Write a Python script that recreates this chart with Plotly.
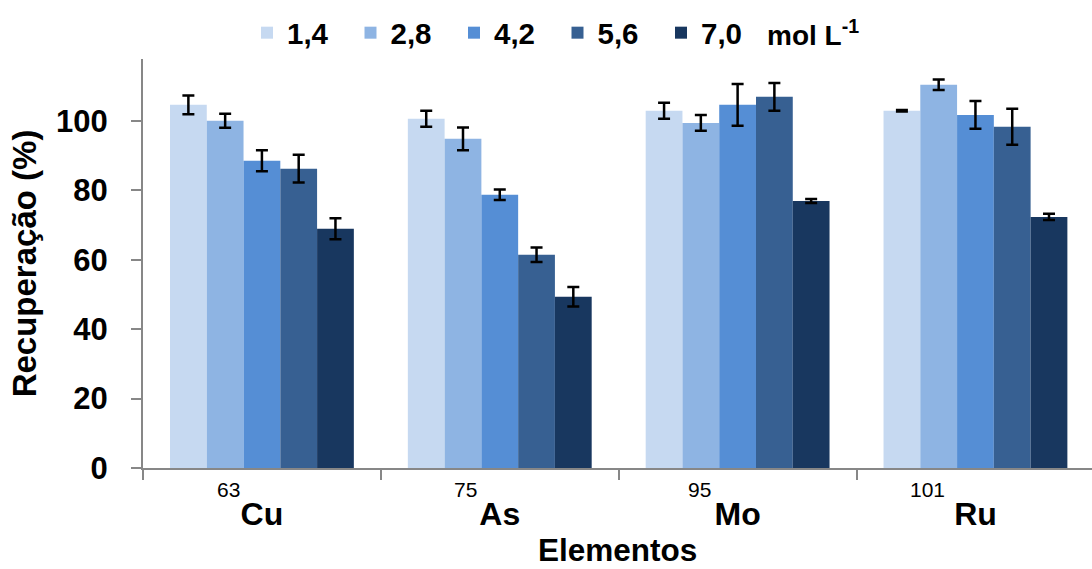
import plotly.graph_objects as go

# Elements (with mass numbers) and nitric acid concentrations
elements = ["Cu", "As", "Mo", "Ru"]
mass_numbers = ["63", "75", "95", "101"]
concentrations = ["1,4", "2,8", "4,2", "5,6", "7,0"]

# Recovery (%) per concentration, ordered as in `elements`
rec_14 = [104.6, 100.6, 102.9, 102.9]
rec_28 = [100.0, 94.8, 99.4, 110.4]
rec_42 = [88.5, 78.7, 104.6, 101.7]
rec_56 = [86.2, 61.4, 106.9, 98.3]
rec_70 = [68.9, 49.3, 76.9, 72.3]

# Standard deviations
sd_14 = [2.7, 2.3, 2.3, 0.2]
sd_28 = [2.0, 3.3, 2.3, 1.5]
sd_42 = [3.0, 1.5, 6.0, 4.0]
sd_56 = [4.0, 2.1, 4.0, 5.2]
sd_70 = [3.0, 2.8, 0.6, 0.9]

values = [rec_14, rec_28, rec_42, rec_56, rec_70]
errors = [sd_14, sd_28, sd_42, sd_56, sd_70]
colors = ["#C6D9F1", "#8EB4E3", "#558ED5", "#376092", "#18375F"]

FONT = "Liberation Sans, Arial, sans-serif"
AXIS_GRAY = "#878787"

# plot area in pixels
W, H = 1092, 569
ML, MR, MT, MB = 143, 0, 59, 101
PW = W - ML - MR

fig = go.Figure()
for name, vals, errs, col in zip(concentrations, values, errors, colors):
    fig.add_trace(go.Bar(
        x=elements, y=vals, name=name,
        marker=dict(color=col, line=dict(width=0)),
        error_y=dict(type="data", array=errs, visible=True,
                     color="black", thickness=2.5, width=6),
    ))

# mass-number prefixes written to the upper left of each element symbol
mass_shift = [-33, -34, -38, -48]
for el, m, sh in zip(elements, mass_numbers, mass_shift):
    fig.add_annotation(
        x=el, xref="x", y=0, yref="paper", text=m, showarrow=False,
        xanchor="center", yanchor="middle", xshift=sh, yshift=-21,
        font=dict(family=FONT, size=21, color="black"),
    )

# unit next to the legend
fig.add_annotation(
    x=(765 - ML) / PW, xref="paper", y=1, yref="paper",
    text="<b>mol L<sup>-1</sup></b>",
    showarrow=False, xanchor="left", yanchor="middle", yshift=26,
    font=dict(family=FONT, size=28, color="black"),
)

# x-axis title
fig.add_annotation(
    x=0.5, xref="paper", y=0, yref="paper", text="<b>Elementos</b>",
    showarrow=False, xanchor="center", yanchor="middle", yshift=-82,
    font=dict(family=FONT, size=31.5, color="black"),
)

fig.update_layout(
    width=W, height=H,
    margin=dict(l=ML, r=MR, t=MT, b=MB),
    paper_bgcolor="white", plot_bgcolor="white",
    barmode="group", bargap=0.227, bargroupgap=0,
    showlegend=True,
    legend=dict(
        orientation="h", x=(247 - ML) / PW, y=1.0,
        xanchor="left", yanchor="bottom",
        entrywidth=58.5, entrywidthmode="pixels",
        font=dict(family=FONT, size=29.5, color="black", weight="bold"),
        bgcolor="rgba(0,0,0,0)", itemclick=False,
    ),
    font=dict(family=FONT, color="black"),
    xaxis=dict(
        type="category", range=[-0.5, 3.49], automargin=False,
        showline=True, linecolor=AXIS_GRAY, linewidth=2,
        ticks="outside", ticklen=10, tickwidth=2, tickcolor=AXIS_GRAY,
        tickson="boundaries", showgrid=False, zeroline=False,
        tickfont=dict(family=FONT, size=32, color="black", weight="bold"),
        ticklabelstandoff=17,
    ),
    yaxis=dict(
        range=[0, 117.8], tickvals=[0, 20, 40, 60, 80, 100], automargin=False,
        showline=True, linecolor=AXIS_GRAY, linewidth=2,
        ticks="outside", ticklen=10, tickwidth=2, tickcolor=AXIS_GRAY,
        showgrid=False, zeroline=False,
        tickfont=dict(family=FONT, size=31, color="black", weight="bold"),
        ticklabelstandoff=17,
        title=dict(text="<b>Recuperação (%)</b>", standoff=10,
                   font=dict(family=FONT, size=33, color="black")),
    ),
)

fig.write_html("out.html")
